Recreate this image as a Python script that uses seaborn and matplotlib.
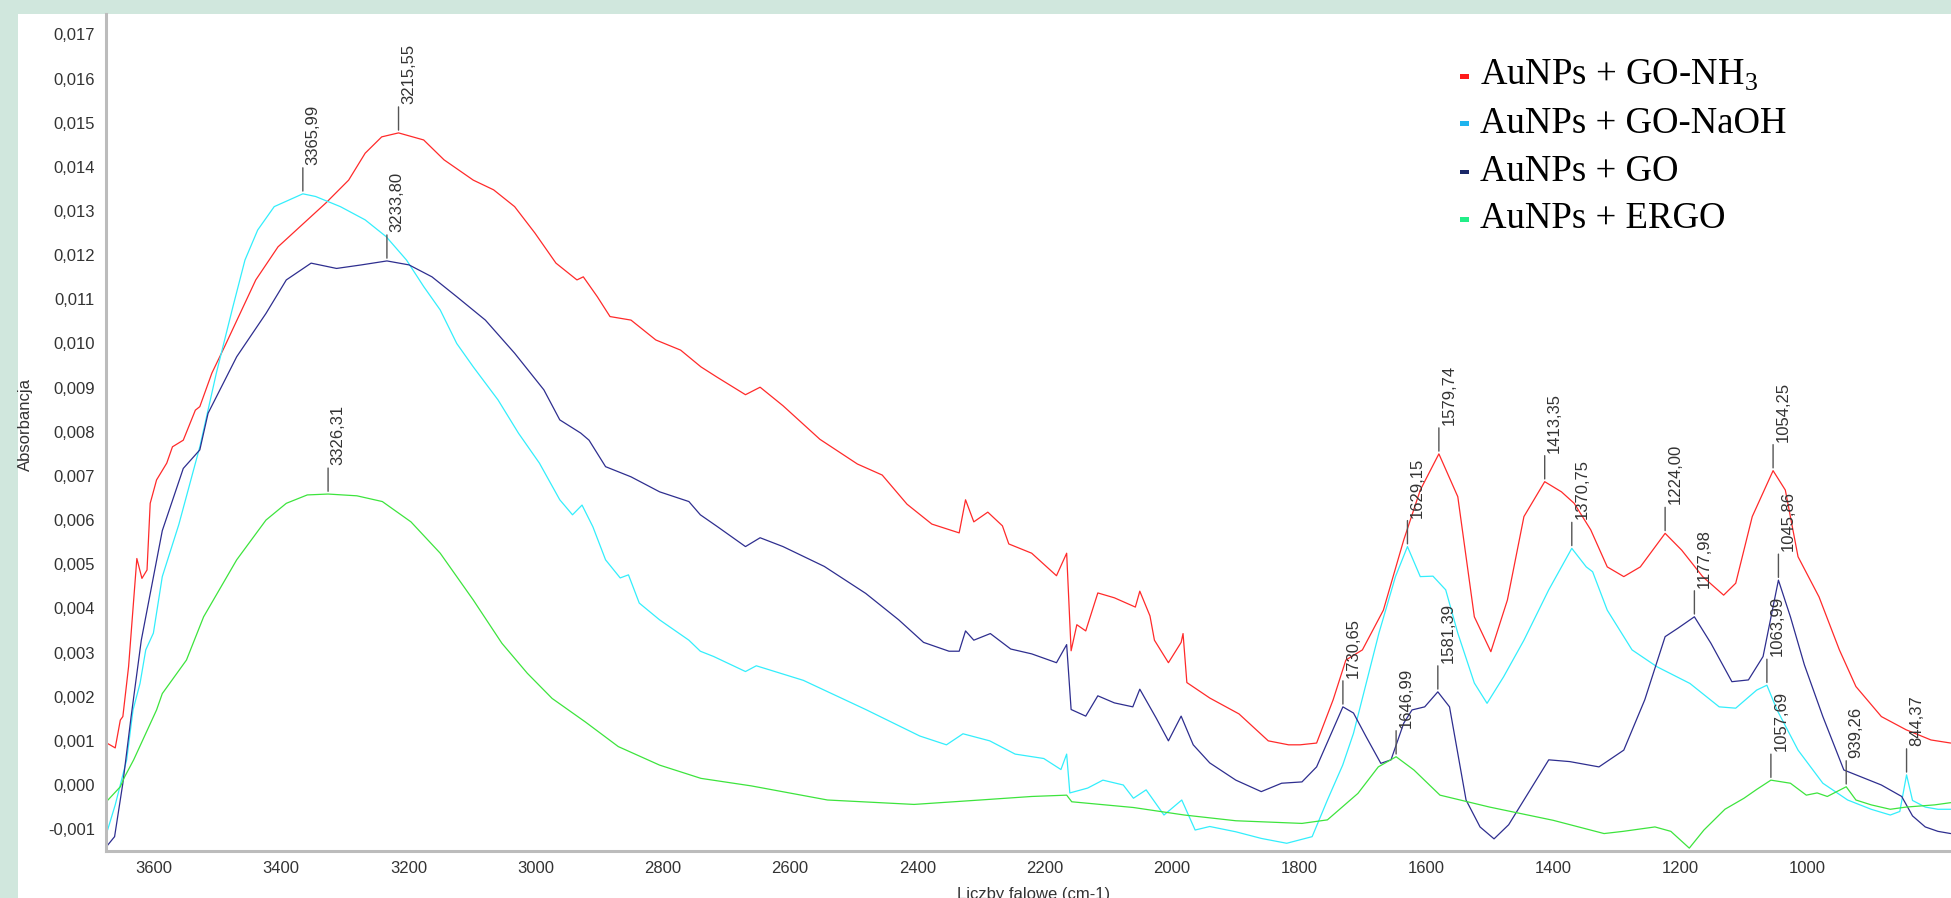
import numpy as np
import pandas as pd
import matplotlib
matplotlib.use("Agg")
import matplotlib.pyplot as plt
import seaborn as sns
from matplotlib.patches import Rectangle
from matplotlib.ticker import MultipleLocator, FuncFormatter

# ---------------- FTIR spectra (wavenumber in cm-1, absorbance) ----------------
red_w = [3673, 3661, 3653, 3649, 3640, 3632, 3627, 3619, 3611, 3606, 3596, 3580, 3571, 3554,
         3535, 3528, 3509, 3489, 3440, 3405, 3330, 3294, 3268, 3242, 3215.55, 3176, 3144, 3098,
         3066, 3033, 3001, 2968, 2935, 2925, 2903, 2883, 2850, 2811, 2772, 2740, 2715, 2670,
         2647, 2611, 2553, 2494, 2455, 2416, 2377, 2334, 2324, 2311, 2289, 2266, 2256, 2220,
         2181, 2165, 2158, 2149, 2135, 2116, 2090, 2057, 2050, 2034, 2027, 2005, 1985, 1982,
         1976, 1940, 1894, 1848, 1816, 1798, 1772, 1746, 1726, 1700, 1667, 1635, 1609, 1579.74,
         1550, 1524, 1498, 1472, 1446, 1413.35, 1387, 1367, 1341, 1315, 1289, 1263, 1224.00,
         1198, 1165, 1132, 1113, 1087, 1054.25, 1035, 1015, 982, 950, 924, 884, 845, 806, 775]
red_a = [0.94, 0.84, 1.47, 1.55, 2.68, 4.19, 5.13, 4.68, 4.87, 6.38, 6.91, 7.29, 7.66, 7.81,
         8.49, 8.57, 9.33, 9.93, 11.44, 12.19, 13.18, 13.70, 14.31, 14.68, 14.77, 14.61, 14.16, 13.70,
         13.48, 13.10, 12.50, 11.82, 11.44, 11.51, 11.06, 10.61, 10.53, 10.08, 9.85, 9.47, 9.24, 8.84,
         9.01, 8.59, 7.83, 7.27, 7.02, 6.36, 5.91, 5.71, 6.46, 5.96, 6.18, 5.87, 5.46, 5.25,
         4.74, 5.25, 3.04, 3.63, 3.49, 4.35, 4.24, 4.03, 4.39, 3.83, 3.28, 2.77, 3.23, 3.43,
         2.32, 1.97, 1.61, 1.00, 0.91, 0.91, 0.95, 1.93, 2.83, 3.06, 3.96, 5.55, 6.68, 7.50,
         6.53, 3.81, 3.02, 4.19, 6.08, 6.87, 6.64, 6.38, 5.78, 4.94, 4.72, 4.94, 5.70,
         5.32, 4.72, 4.30, 4.57, 6.08, 7.12, 6.68, 5.17, 4.26, 3.06, 2.23, 1.55, 1.25, 1.02, 0.95]

cyan_w = [3673, 3661, 3643, 3633, 3622, 3613, 3601, 3587, 3561, 3528, 3502, 3476, 3457, 3437,
          3411, 3365.99, 3346, 3307, 3268, 3235, 3203, 3176, 3150, 3124, 3098, 3059, 3027, 2994,
          2962, 2942, 2927, 2910, 2890, 2867, 2854, 2837, 2805, 2759, 2741, 2720, 2670, 2653,
          2579, 2481, 2396, 2354, 2328, 2286, 2246, 2201, 2174, 2165, 2160, 2132, 2108, 2076,
          2060, 2040, 2012, 1984, 1963, 1940, 1899, 1859, 1819, 1779, 1755, 1731, 1714, 1674,
          1648, 1629.15, 1609, 1589, 1569, 1550, 1524, 1504, 1478, 1446, 1407, 1370.75, 1348,
          1338, 1315, 1276, 1237, 1185, 1139, 1113, 1080, 1063.99, 1048, 1015, 976, 937, 900,
          870, 855, 844.37, 835, 815, 795, 775]
cyan_a = [-1.02, -0.45, 0.57, 1.70, 2.30, 3.06, 3.44, 4.72, 5.90, 7.66, 9.33, 10.83, 11.89, 12.57,
          13.10, 13.39, 13.33, 13.10, 12.80, 12.42, 11.89, 11.29, 10.76, 10.00, 9.47, 8.72, 7.97, 7.29,
          6.46, 6.12, 6.34, 5.85, 5.10, 4.69, 4.76, 4.12, 3.74, 3.28, 3.03, 2.91, 2.57, 2.70,
          2.37, 1.71, 1.11, 0.91, 1.16, 1.00, 0.70, 0.60, 0.35, 0.70, -0.18, -0.07, 0.11, 0.00,
          -0.30, -0.11, -0.68, -0.34, -1.02, -0.94, -1.06, -1.21, -1.32, -1.17, -0.34, 0.45, 1.17, 3.44,
          4.72, 5.40, 4.72, 4.73, 4.42, 3.44, 2.31, 1.85, 2.45, 3.28, 4.42, 5.36, 4.94,
          4.83, 3.96, 3.06, 2.68, 2.30, 1.77, 1.74, 2.15, 2.26, 1.70, 0.79, 0.04, -0.34, -0.55,
          -0.68, -0.60, 0.23, -0.35, -0.50, -0.55, -0.55]

navy_w = [3675, 3662, 3649, 3636, 3620, 3587, 3554, 3528, 3515, 3470, 3424, 3392, 3353, 3313,
          3274, 3233.80, 3199, 3163, 3124, 3079, 3033, 2987, 2962, 2929, 2916, 2890, 2850, 2805,
          2759, 2741, 2714, 2670, 2647, 2611, 2546, 2481, 2429, 2390, 2350, 2334, 2324, 2311,
          2285, 2253, 2220, 2181, 2165, 2158, 2135, 2116, 2090, 2061, 2050, 2024, 2005, 1985,
          1966, 1940, 1899, 1859, 1827, 1795, 1772, 1730.65, 1714, 1694, 1671, 1655, 1635, 1622,
          1602, 1581.39, 1563, 1537, 1515, 1493, 1470, 1446, 1407, 1374, 1328, 1289, 1256, 1224,
          1204, 1177.98, 1152, 1119, 1093, 1070, 1045.86, 1027, 1005, 976, 943, 884, 852, 835,
          815, 795, 775]
navy_a = [-1.40, -1.17, 0.04, 1.55, 3.28, 5.76, 7.17, 7.59, 8.42, 9.70, 10.68, 11.44, 11.82, 11.70,
          11.78, 11.87, 11.78, 11.51, 11.06, 10.53, 9.78, 8.95, 8.27, 7.97, 7.81, 7.21, 6.98, 6.64,
          6.42, 6.12, 5.85, 5.40, 5.60, 5.40, 4.95, 4.34, 3.74, 3.23, 3.03, 3.03, 3.49, 3.28,
          3.43, 3.08, 2.97, 2.77, 3.18, 1.71, 1.56, 2.02, 1.86, 1.77, 2.17, 1.51, 1.00, 1.56,
          0.91, 0.50, 0.11, -0.15, 0.04, 0.07, 0.41, 1.77, 1.63, 1.09, 0.49, 0.57, 1.40, 1.70,
          1.77, 2.11, 1.77, -0.34, -0.95, -1.22, -0.90, -0.34, 0.57, 0.53, 0.41, 0.79, 1.93, 3.36,
          3.55, 3.81, 3.21, 2.34, 2.38, 2.91, 4.64, 3.81, 2.72, 1.55, 0.34, 0.00, -0.26, -0.70,
          -0.95, -1.05, -1.10]

green_w = [3675, 3653, 3646, 3632, 3596, 3587, 3549, 3522, 3470, 3424, 3392, 3359, 3326.31, 3281,
           3241, 3196, 3150, 3098, 3053, 3013, 2974, 2922, 2870, 2805, 2740, 2661, 2541, 2405,
           2301, 2220, 2165, 2157, 2060, 1980, 1899, 1795, 1755, 1707, 1675, 1646.99, 1619, 1578,
           1500, 1400, 1320, 1290, 1240, 1215, 1186, 1163, 1130, 1100, 1080, 1057.69, 1027, 1002,
           985, 969, 939.26, 924, 900, 870, 845, 800, 775]
green_a = [-0.38, -0.04, 0.19, 0.57, 1.70, 2.07, 2.83, 3.81, 5.10, 6.00, 6.38, 6.57, 6.59, 6.55,
           6.42, 5.96, 5.25, 4.19, 3.21, 2.53, 1.96, 1.43, 0.87, 0.45, 0.15, -0.02, -0.34, -0.44,
           -0.34, -0.26, -0.23, -0.38, -0.51, -0.68, -0.81, -0.87, -0.79, -0.19, 0.41, 0.64, 0.34, -0.23,
           -0.50, -0.80, -1.10, -1.05, -0.95, -1.05, -1.43, -1.02, -0.55, -0.30, -0.10, 0.11, 0.04, -0.23,
           -0.18, -0.26, -0.04, -0.34, -0.45, -0.55, -0.50, -0.45, -0.40]

# absorbance values above are in units of 10^-3
samples = ["AuNPs + GO-NH3", "AuNPs + GO-NaOH", "AuNPs + GO", "AuNPs + ERGO"]
series = {
    samples[0]: (red_w, red_a),
    samples[1]: (cyan_w, cyan_a),
    samples[2]: (navy_w, navy_a),
    samples[3]: (green_w, green_a),
}
line_colors = {samples[0]: "#ff2a2a", samples[1]: "#33eefc",
               samples[2]: "#2e2e8f", samples[3]: "#3de43d"}

# marked band positions for each spectrum
peaks = {
    samples[0]: [3215.55, 1579.74, 1413.35, 1224.00, 1054.25],
    samples[1]: [3365.99, 1629.15, 1370.75, 1063.99, 844.37],
    samples[2]: [3233.80, 1730.65, 1581.39, 1177.98, 1045.86],
    samples[3]: [3326.31, 1646.99, 1057.69, 939.26],
}

legend_labels = ["AuNPs + GO-NH$_3$", "AuNPs + GO-NaOH", "AuNPs + GO", "AuNPs + ERGO"]
legend_colors = ["#ff1a1a", "#1fb4ee", "#1a2868", "#22ee88"]

x_ticks = list(range(3600, 999, -200))

# ---------------- long-format table ----------------
rows = []
for name, (w, a) in series.items():
    for wi, ai in zip(w, a):
        rows.append((name, wi, ai * 1e-3))
df = pd.DataFrame(rows, columns=["sample", "wavenumber", "absorbance"])

# ---------------- figure ----------------
sns.set_style("white")
plt.rcParams["font.family"] = ["Liberation Sans", "DejaVu Sans"]
plt.rcParams["mathtext.fontset"] = "custom"
plt.rcParams["mathtext.rm"] = "Liberation Serif"

W, H = 1951, 898
fig = plt.figure(figsize=(W / 100, H / 100), dpi=100, facecolor="#d0e7dd")
fig.add_artist(Rectangle((18 / W, 0), 1, 1 - 14 / H, transform=fig.transFigure,
                         facecolor="white", edgecolor="none", zorder=-10))

ax_left, ax_right, ax_top, ax_bottom = 106, 1951, 14, 851
ax = fig.add_axes([ax_left / W, 1 - ax_bottom / H, (ax_right - ax_left) / W,
                   (ax_bottom - ax_top) / H])
ax.set_facecolor("white")

sns.lineplot(data=df, x="wavenumber", y="absorbance", hue="sample", palette=line_colors,
             estimator=None, sort=False, legend=False, linewidth=0.9, ax=ax)

ax.set_xlim(3675.5, 774.5)
ax.set_ylim(-0.001495, 0.017463)

# band annotations: short leader plus rotated wavenumber
for name, plist in peaks.items():
    w, a = series[name]
    for p in plist:
        v = a[w.index(p)] * 1e-3
        ax.annotate("", xy=(p, v), xytext=(0, 26), textcoords="offset pixels",
                    arrowprops=dict(arrowstyle="-", color="#555555", lw=1.0,
                                    shrinkA=0, shrinkB=2))
        ax.annotate(f"{p:.2f}".replace(".", ","), xy=(p, v), xytext=(10, 29),
                    textcoords="offset pixels", rotation=90, ha="center", va="bottom",
                    fontsize=12, color="#333333")

# axes styling
for side in ("top", "right"):
    ax.spines[side].set_visible(False)
for side in ("left", "bottom"):
    ax.spines[side].set_color("#bcbcbc")
    ax.spines[side].set_linewidth(2.2)

ax.set_xticks(x_ticks)
ax.xaxis.set_minor_locator(MultipleLocator(50))
ax.yaxis.set_major_locator(MultipleLocator(0.001))
ax.yaxis.set_minor_locator(MultipleLocator(0.0001))
ax.yaxis.set_major_formatter(FuncFormatter(lambda v, _: f"{v:.3f}".replace(".", ",")))
ax.xaxis.set_major_formatter(FuncFormatter(lambda v, _: f"{v:.0f}"))

ax.tick_params(axis="x", which="major", direction="out", length=3, width=1.2,
               color="#444444", labelsize=12, labelcolor="#333333", pad=4)
ax.tick_params(axis="x", which="minor", direction="out", length=2, width=1.2, color="#555555")
ax.tick_params(axis="y", which="major", direction="out", length=4, width=1.2,
               color="#444444", labelsize=12, labelcolor="#333333", pad=4)
ax.tick_params(axis="y", which="minor", direction="out", length=1.5, width=1.3, color="#555555")

ax.set_xlabel("Liczby falowe (cm-1)", fontsize=12, color="#333333")
ax.set_ylabel("Absorbancja", fontsize=12, color="#333333")
ax.xaxis.set_label_coords((1034 - ax_left) / (ax_right - ax_left),
                          (ax_bottom - 887) / (ax_bottom - ax_top))
ax.yaxis.set_label_coords((33 - ax_left) / (ax_right - ax_left),
                          (ax_bottom - 424) / (ax_bottom - ax_top))
ax.xaxis.label.set_va("top")

# legend drawn as colored dashes with serif labels
baselines = [85, 132.7, 180.7, 228.3]
for lab, col, yb in zip(legend_labels, legend_colors, baselines):
    fig.add_artist(Rectangle((1460 / W, 1 - (yb - 6.5) / H), 9 / W, 4.7 / H,
                             transform=fig.transFigure, facecolor=col, edgecolor="none"))
    fig.text(1480 / W, 1 - yb / H, lab, fontsize=26.5, color="black", va="baseline",
             ha="left", family=["Liberation Serif", "DejaVu Serif"])

fig.savefig("out.png", dpi=100, facecolor=fig.get_facecolor())
